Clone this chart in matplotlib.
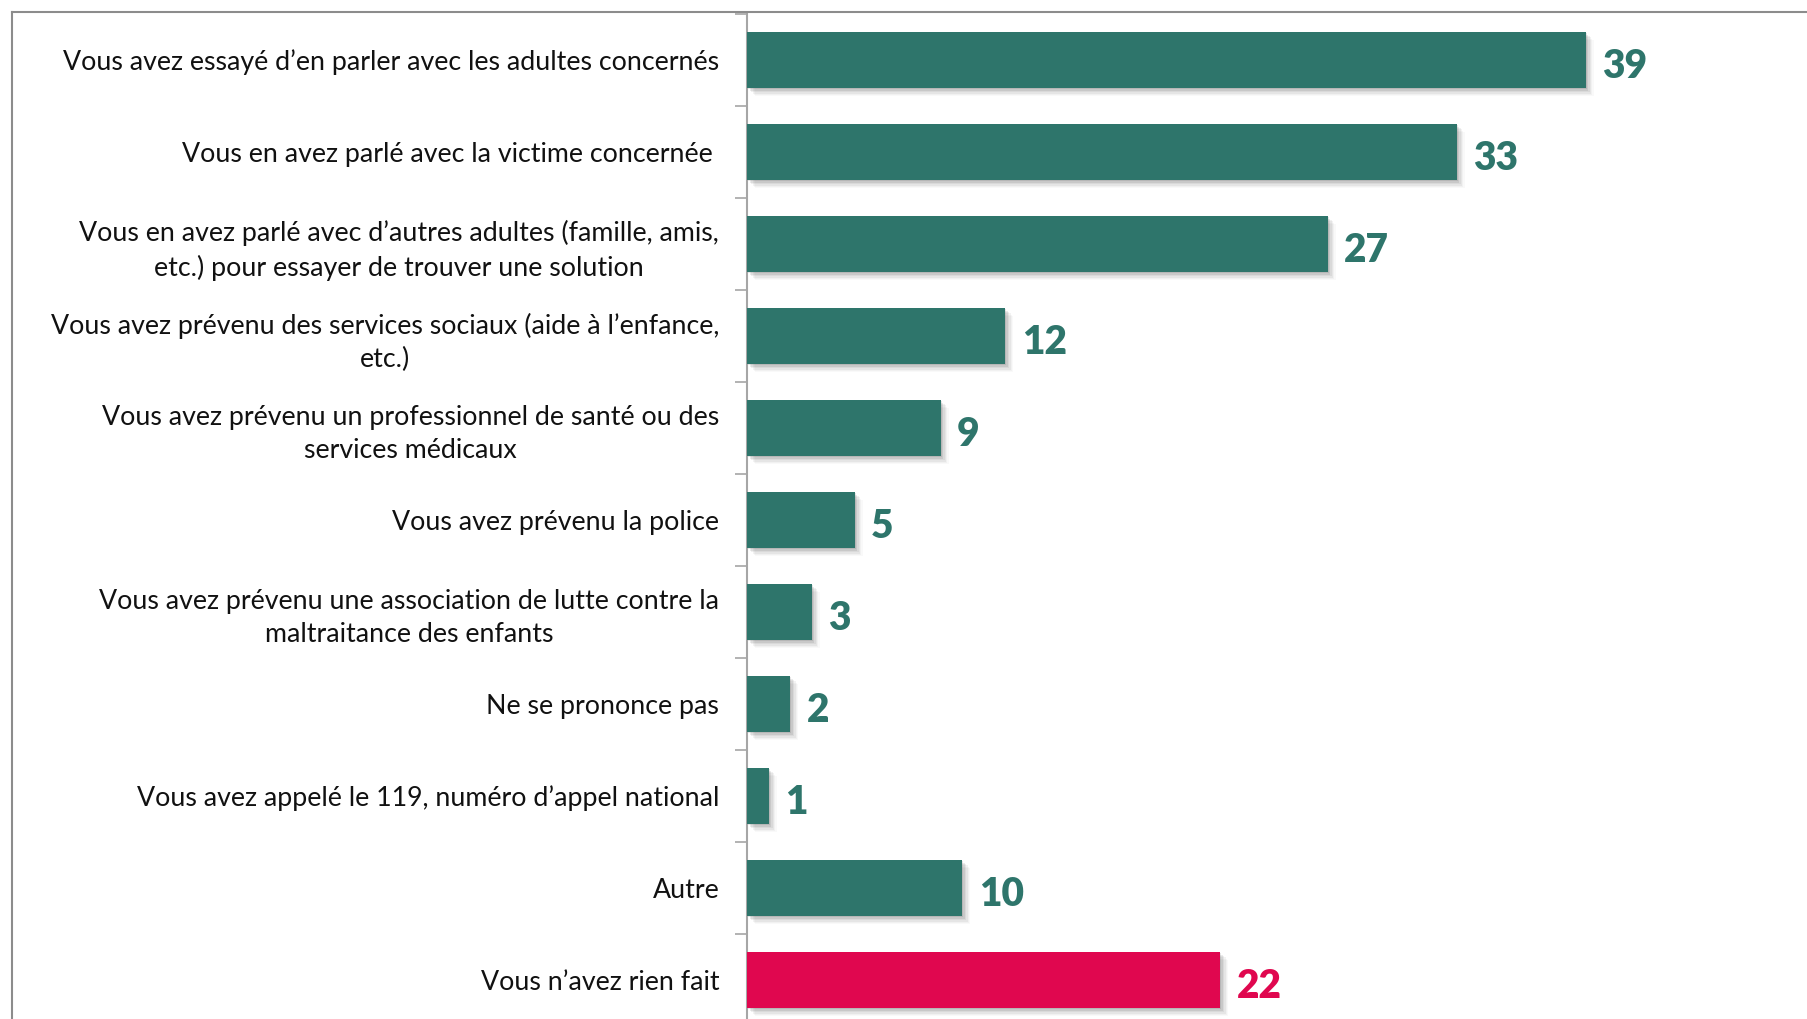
import matplotlib
matplotlib.use("Agg")
import matplotlib.pyplot as plt
import matplotlib.patheffects as pe
from matplotlib.lines import Line2D

categories = [
    "Vous avez essayé d’en parler avec les adultes concernés",
    "Vous en avez parlé avec la victime concernée ",
    "Vous en avez parlé avec d’autres adultes (famille, amis,\netc.) pour essayer de trouver une solution",
    "Vous avez prévenu des services sociaux (aide à l’enfance,\netc.)",
    "Vous avez prévenu un professionnel de santé ou des\nservices médicaux",
    "Vous avez prévenu la police",
    "Vous avez prévenu une association de lutte contre la\nmaltraitance des enfants",
    "Ne se prononce pas",
    "Vous avez appelé le 119, numéro d’appel national",
    "Autre",
    "Vous n’avez rien fait",
]
values = [39, 33, 27, 12, 9, 5, 3, 2, 1, 10, 22]
highlight = [False] * 10 + [True]

TEAL = "#2E756B"
PINK = "#E0074F"

W, H = 1807, 1019
fig = plt.figure(figsize=(W / 100, H / 100), dpi=100)
fig.patch.set_facecolor("white")

ax_left = 747 / W
ax_top = 1 - 14 / H
ax_bottom = -7 / H
ax = fig.add_axes([ax_left, ax_bottom, 1 - ax_left, ax_top - ax_bottom])

colors = [PINK if h else TEAL for h in highlight]
ypos = list(range(len(categories)))
bars = ax.barh(ypos, values, height=0.61, color=colors, zorder=3)
shadow = []
for dx, dy, a in [(1, -1, 0.12), (2, -2, 0.10), (3, -3, 0.08), (4, -4, 0.06), (5, -5, 0.04), (6, -6, 0.03)]:
    shadow.append(pe.SimplePatchShadow(offset=(dx, dy), shadow_rgbFace="#404040", alpha=a))
for b in bars:
    b.set_path_effects(shadow + [pe.Normal()])

ax.set_xlim(0, 1060 / 21.5)
ax.set_ylim(len(categories) - 0.5, -0.5)

label_font = "Lato"
for i, (v, c) in enumerate(zip(values, colors)):
    ax.annotate(str(v), (v, i), xytext=(12, -5), textcoords="offset points",
                ha="left", va="center", fontsize=28, fontweight="heavy",
                color=c, family=label_font)

ax.set_yticks([i - 0.5 for i in range(len(categories) + 1)])
ax.set_yticklabels([])
ax.set_yticks(ypos, minor=True)
ax.set_yticklabels(categories, minor=True, fontsize=19.3, family=label_font,
                   color="#111111", linespacing=1.38)
ax.tick_params(axis="y", which="major", length=9, width=1.2, color="#A6A6A6", direction="out")
ax.tick_params(axis="y", which="minor", length=0, pad=20)
for lab in ax.get_yticklabels(minor=True):
    lab.set_horizontalalignment("right")
    lab.set_multialignment("center")
ax.set_xticks([])

for s in ["top", "right", "bottom"]:
    ax.spines[s].set_visible(False)
ax.spines["left"].set_color("#A6A6A6")
ax.spines["left"].set_linewidth(1.5)

# outer frame lines (top and left)
fy = 1 - 11.5 / H
fx = 11.5 / W
fig.add_artist(Line2D([fx, 1], [fy, fy], transform=fig.transFigure, color="#8C8C8C", lw=1.5))
fig.add_artist(Line2D([fx, fx], [0, fy], transform=fig.transFigure, color="#8C8C8C", lw=1.5))

fig.savefig("out.png", dpi=100, facecolor="white")
